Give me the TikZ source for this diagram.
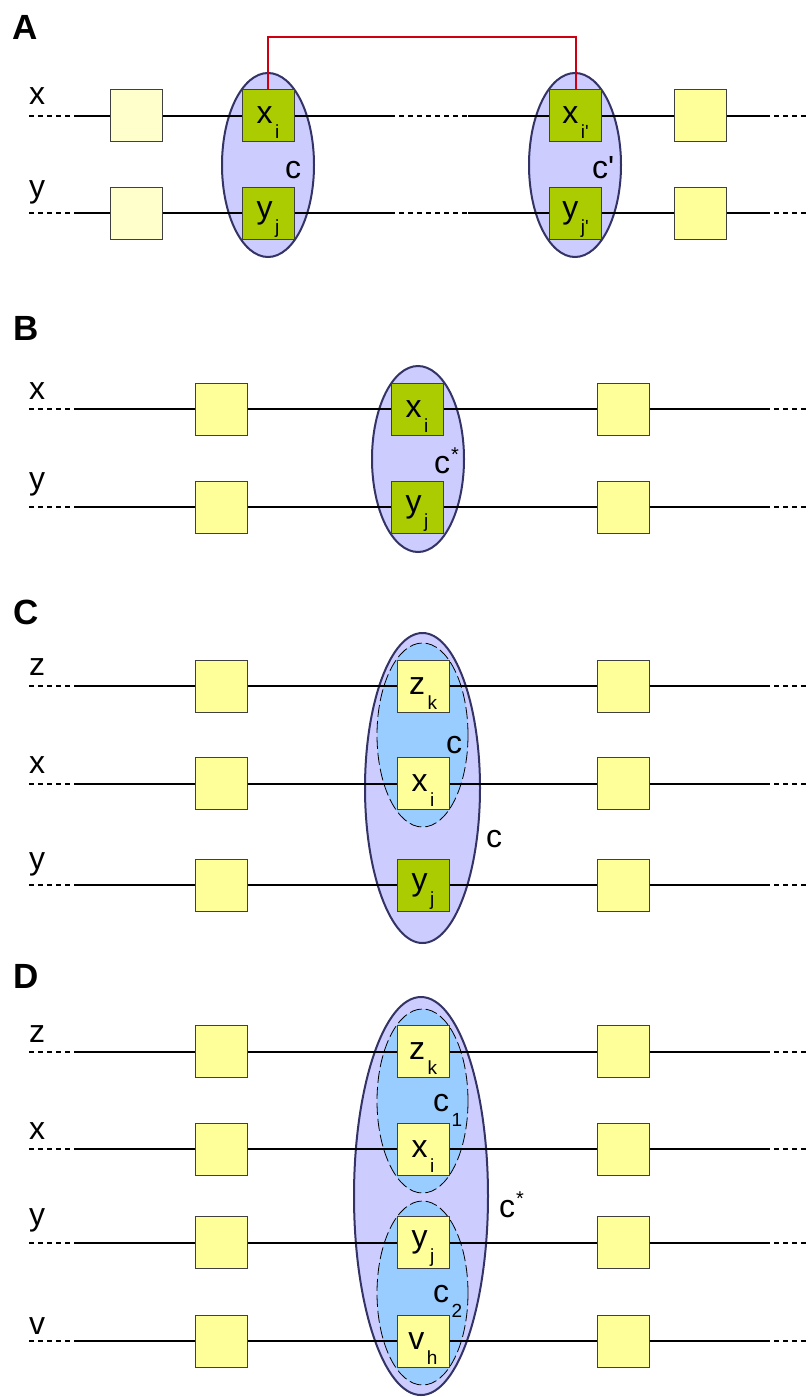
\documentclass[tikz,border=0pt]{standalone}
\usepackage{fontspec}
\setmainfont{Liberation Sans}[Ligatures=TeXOff]
\usetikzlibrary{shapes.geometric}
\definecolor{paleY}{HTML}{FFFFCC}
\definecolor{yel}{HTML}{FFFF99}
\definecolor{grn}{HTML}{AACC00}
\definecolor{lav}{HTML}{CCCCFF}
\definecolor{navy}{HTML}{333366}
\definecolor{sky}{HTML}{99CCFF}
\definecolor{redl}{HTML}{CC0011}
\newcommand{\sbs}[2]{#1\kern2.5pt\raisebox{-15pt}[0pt][0pt]{\fontsize{19}{19}\selectfont #2}}
\newcommand{\sps}[2]{#1\kern1pt\raisebox{12pt}[0pt][0pt]{\fontsize{20}{20}\selectfont #2}}
\begin{document}
\begin{tikzpicture}[x=1pt,y=-1pt,
  lab/.style={anchor=base west, inner sep=0pt, font=\fontsize{32}{32}\selectfont},
  panel/.style={anchor=base west, inner sep=0pt, font=\fontsize{35}{35}\selectfont\bfseries},
  boxbase/.style={draw=black!75, line width=1pt, minimum size=52pt, inner sep=0pt, font=\fontsize{32}{32}\selectfont},
  pbox/.style={boxbase, fill=paleY},
  ybox/.style={boxbase, fill=yel},
  gbox/.style={boxbase, fill=grn},
  clus/.style={ellipse, fill=lav, draw=navy, line width=2pt, inner sep=0pt},
  subcl/.style={ellipse, fill=sky, draw=black, line width=0.8pt, dash pattern=on 12pt off 4pt, inner sep=0pt, minimum width=91pt, minimum height=184pt},
  row/.style={line width=2pt},
  drow/.style={line width=2pt, dash pattern=on 5pt off 4pt},
  link/.style={draw=redl, line width=2pt}]
\useasboundingbox (0,0) rectangle (809,1397);

% ---------------- Panel A ----------------
\node[panel] (pA) at (12,40) {A};
\node[clus, minimum width=92pt, minimum height=184pt] (cA1) at (268,165) {};
\node[clus, minimum width=92pt, minimum height=184pt] (cA2) at (575,165) {};
\foreach \r/\y in {x/115.5, y/213} {
  \coordinate (A\r s) at (29,\y);
  \coordinate (A\r a) at (79,\y);
  \coordinate (A\r m) at (390,\y);
  \coordinate (A\r n) at (468,\y);
  \coordinate (A\r b) at (765,\y);
  \coordinate (A\r e) at (809,\y);
  \node[pbox] (A\r L) at (136,\y) {};
  \node[ybox] (A\r R) at (700,\y) {};
}
\node[gbox] (AxM) at (268,115.5) {\sbs{x}{i}};
\node[gbox] (AxN) at (575.5,115.5) {\sbs{x}{i'}};
\node[gbox] (AyM) at (268,213) {\sbs{y}{j}};
\node[gbox] (AyN) at (575.5,213) {\sbs{y}{j'}};
\foreach \r in {x,y} {
  \draw[drow] (A\r s) -- (A\r a);
  \draw[row] (A\r a) -- (A\r L) -- (A\r M) -- (A\r m);
  \draw[drow] (A\r m) -- (A\r n);
  \draw[row] (A\r n) -- (A\r N) -- (A\r R) -- (A\r b);
  \draw[drow] (A\r b) -- (A\r e);
}
\coordinate (rt) at (268,37);
\draw[link] (AxM.north) -- (rt) -| (AxN.north);
\node[lab] (lAx) at (29,104) {x};
\node[lab] (lAy) at (29,197) {y};
\node[lab] (lAc) at (285,178) {c};
\node[lab] (lAc2) at (592,178) {c'};

% ---------------- Panel B ----------------
\node[panel] (pB) at (13,340) {B};
\node[clus, minimum width=92pt, minimum height=186pt] (cB) at (418,459) {};
\foreach \r/\y in {x/409, y/507} {
  \coordinate (B\r s) at (29,\y);
  \coordinate (B\r a) at (79,\y);
  \coordinate (B\r b) at (765,\y);
  \coordinate (B\r e) at (809,\y);
  \node[ybox] (B\r L) at (221,\y) {};
  \node[ybox] (B\r R) at (623,\y) {};
}
\node[gbox] (BxM) at (417,409) {\sbs{x}{i}};
\node[gbox] (ByM) at (417,507) {\sbs{y}{j}};
\foreach \r in {x,y} {
  \draw[drow] (B\r s) -- (B\r a);
  \draw[row] (B\r a) -- (B\r L) -- (B\r M) -- (B\r R) -- (B\r b);
  \draw[drow] (B\r b) -- (B\r e);
}
\node[lab] (lBx) at (29,399) {x};
\node[lab] (lBy) at (29,489) {y};
\node[lab] (lBc) at (434,473) {\sps{c}{*}};

% ---------------- Panel C ----------------
\node[panel] (pC) at (13,624) {C};
\node[clus, minimum width=115pt, minimum height=310pt] (cC) at (422.5,788) {};
\node[subcl] (cCin) at (422.5,735) {};
\foreach \r/\y in {z/686, x/783.5, y/885} {
  \coordinate (C\r s) at (29,\y);
  \coordinate (C\r a) at (79,\y);
  \coordinate (C\r b) at (765,\y);
  \coordinate (C\r e) at (809,\y);
  \node[ybox] (C\r L) at (221,\y) {};
  \node[ybox] (C\r R) at (623,\y) {};
}
\node[ybox] (CzM) at (423,686) {\sbs{z}{k}};
\node[ybox] (CxM) at (423,783.5) {\sbs{x}{i}};
\node[gbox] (CyM) at (423,885) {\sbs{y}{j}};
\foreach \r in {z,x,y} {
  \draw[drow] (C\r s) -- (C\r a);
  \draw[row] (C\r a) -- (C\r L) -- (C\r M) -- (C\r R) -- (C\r b);
  \draw[drow] (C\r b) -- (C\r e);
}
\node[lab] (lCz) at (29,675) {z};
\node[lab] (lCx) at (29,773) {x};
\node[lab] (lCy) at (29,869) {y};
\node[lab] (lCc1) at (446,753) {c};
\node[lab] (lCc2) at (486,847) {c};

% ---------------- Panel D ----------------
\node[panel] (pD) at (13,988) {D};
\node[clus, minimum width=134pt, minimum height=398pt] (cD) at (421,1196) {};
\node[subcl] (cD1) at (422.5,1101) {};
\node[subcl] (cD2) at (422.5,1293) {};
\foreach \r/\y in {z/1051.5, x/1149, y/1242.5, v/1341} {
  \coordinate (D\r s) at (29,\y);
  \coordinate (D\r a) at (79,\y);
  \coordinate (D\r b) at (765,\y);
  \coordinate (D\r e) at (809,\y);
  \node[ybox] (D\r L) at (221,\y) {};
  \node[ybox] (D\r R) at (623,\y) {};
}
\node[ybox] (DzM) at (423,1051.5) {\sbs{z}{k}};
\node[ybox] (DxM) at (423,1149) {\sbs{x}{i}};
\node[ybox] (DyM) at (423,1242.5) {\sbs{y}{j}};
\node[ybox] (DvM) at (423,1341) {\sbs{v}{h}};
\foreach \r in {z,x,y,v} {
  \draw[drow] (D\r s) -- (D\r a);
  \draw[row] (D\r a) -- (D\r L) -- (D\r M) -- (D\r R) -- (D\r b);
  \draw[drow] (D\r b) -- (D\r e);
}
\node[lab] (lDz) at (29,1042) {z};
\node[lab] (lDx) at (29,1139) {x};
\node[lab] (lDy) at (29,1225) {y};
\node[lab] (lDv) at (29,1334) {v};
\node[lab] (lDc1) at (433,1111) {\sbs{c}{1}};
\node[lab] (lDc2) at (433,1302) {\sbs{c}{2}};
\node[lab] (lDcs) at (499,1217) {\sps{c}{*}};
\end{tikzpicture}
\end{document}
